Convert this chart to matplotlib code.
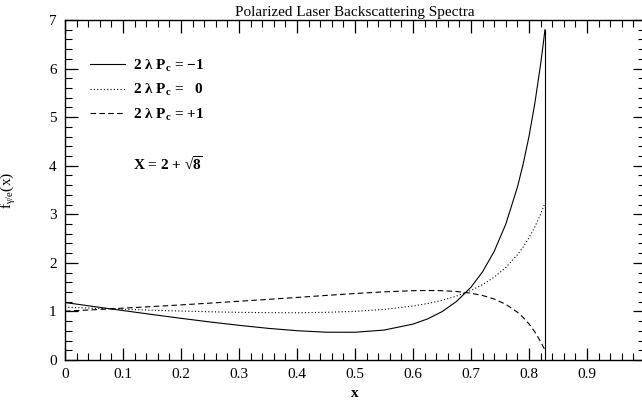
import matplotlib
matplotlib.use("Agg")
import matplotlib.pyplot as plt
from matplotlib.ticker import MultipleLocator, FuncFormatter

plt.rcParams['font.family'] = ['Liberation Serif', 'DejaVu Serif']
plt.rcParams['mathtext.fontset'] = 'custom'
plt.rcParams['mathtext.rm'] = 'Liberation Serif'
plt.rcParams['mathtext.it'] = 'Liberation Serif:italic'
plt.rcParams['mathtext.bf'] = 'Liberation Serif:bold'

# spectrum samples, x = photon energy fraction
x = [0, 0.025, 0.05, 0.075, 0.1, 0.15, 0.2, 0.25, 0.3, 0.35, 0.4, 0.45, 0.5,
     0.55, 0.6, 0.625, 0.65, 0.675, 0.7, 0.72, 0.74, 0.76, 0.78, 0.79, 0.8,
     0.81, 0.82, 0.825, 0.8275]
f_minus = [1.183, 1.142, 1.100, 1.059, 1.018, 0.937, 0.858, 0.783, 0.714, 0.652,
           0.603, 0.572, 0.571, 0.616, 0.739, 0.845, 0.995, 1.205, 1.499, 1.817,
           2.237, 2.798, 3.557, 4.038, 4.606, 5.281, 6.089, 6.553, 6.80]
f_zero = [1.087, 1.076, 1.065, 1.055, 1.044, 1.025, 1.008, 0.993, 0.981, 0.974,
          0.973, 0.981, 1.002, 1.041, 1.111, 1.162, 1.229, 1.316, 1.432, 1.552,
          1.706, 1.905, 2.166, 2.328, 2.518, 2.739, 3.002, 3.151, 3.23]
f_plus = [1.005, 1.020, 1.035, 1.051, 1.067, 1.100, 1.134, 1.171, 1.209, 1.248,
          1.288, 1.329, 1.368, 1.403, 1.427, 1.431, 1.427, 1.410, 1.375, 1.328,
          1.255, 1.146, 0.984, 0.876, 0.743, 0.580, 0.379, 0.261, 0.21]
x_max = 0.8284

labels = [r"2 λ $\mathbf{P_c}$ = −1",
          r"2 λ $\mathbf{P_c}$ =   0",
          r"2 λ $\mathbf{P_c}$ = +1"]

fig = plt.figure(figsize=(6.42, 4.07), dpi=100)
ax = fig.add_axes([0.1012, 0.1155, 0.9035, 0.8354])

ax.plot(x, f_minus, color='black', lw=0.8, label=labels[0])
ax.plot(x, f_zero, color='black', lw=0.8, linestyle=(0, (1, 2)), label=labels[1])
ax.plot(x, f_plus, color='black', lw=0.8, linestyle=(0, (5, 3)), label=labels[2])
ax.plot([x_max, x_max], [0, f_minus[-1]], color='black', lw=0.8)

ax.set_xlim(0, 1)
ax.set_ylim(0, 7)
ax.xaxis.set_major_locator(MultipleLocator(0.1))
ax.xaxis.set_minor_locator(MultipleLocator(0.02))
ax.yaxis.set_major_locator(MultipleLocator(1))
ax.yaxis.set_minor_locator(MultipleLocator(0.2))
ax.xaxis.set_major_formatter(FuncFormatter(lambda v, p: '%g' % round(v, 2)))
ax.tick_params(which='both', direction='in', top=True, right=True, labelsize=11)
ax.tick_params(which='major', length=9, width=0.9, pad=6)
ax.tick_params(which='minor', length=5, width=0.8)
for s in ax.spines.values():
    s.set_linewidth(1.0)

ax.set_title('Polarized Laser Backscattering Spectra', fontsize=11, pad=3)
ax.set_xlabel('x', fontsize=11, fontweight='bold', labelpad=4)
ax.set_ylabel(r'$\mathrm{f_{\gamma/e}(x)}$', fontsize=11, labelpad=22)

leg = ax.legend(loc='upper left', bbox_to_anchor=(0.02, 0.93), frameon=False,
                handlelength=2.3, handletextpad=0.5, labelspacing=0.55,
                prop={'size': 11, 'weight': 'bold'})

ax.text(0.117, 0.575, r'X = 2 + √$\overline{\mathbf{8}}$', transform=ax.transAxes,
        fontsize=11, fontweight='bold', va='center', ha='left')

fig.savefig('out.png', dpi=100)
